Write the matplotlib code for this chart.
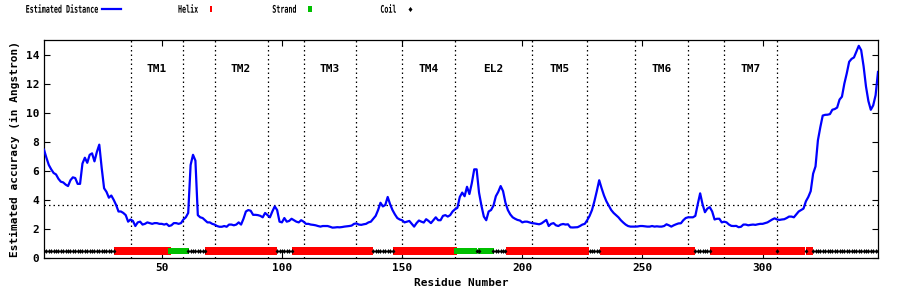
import numpy as np
import matplotlib
matplotlib.use('Agg')
import matplotlib.pyplot as plt
from matplotlib.lines import Line2D
from matplotlib.path import Path
from matplotlib.patches import PathPatch
from matplotlib.textpath import TextPath
from matplotlib.font_manager import FontProperties
from matplotlib.transforms import Affine2D, IdentityTransform

# estimated distance per residue (1..348)
distance = [
    7.45, 6.9, 6.4, 6.1, 5.85, 5.75, 5.45, 5.25, 5.2, 5.05,
    4.95, 5.35, 5.55, 5.5, 5.1, 5.1, 6.5, 6.9, 6.55, 7.1,
    7.2, 6.65, 7.3, 7.8, 6.2, 4.8, 4.55, 4.15, 4.3, 4.0,
    3.65, 3.2, 3.2, 3.1, 2.95, 2.5, 2.65, 2.55, 2.2, 2.45,
    2.5, 2.3, 2.35, 2.45, 2.4, 2.35, 2.4, 2.4, 2.35, 2.35,
    2.3, 2.35, 2.2, 2.25, 2.4, 2.4, 2.35, 2.4, 2.65, 2.8,
    3.1, 6.4, 7.1, 6.7, 2.95, 2.8, 2.75, 2.6, 2.45, 2.45,
    2.35, 2.3, 2.2, 2.15, 2.15, 2.2, 2.15, 2.3, 2.3, 2.25,
    2.3, 2.45, 2.3, 2.7, 3.2, 3.3, 3.25, 2.97, 2.97, 2.95,
    2.9, 2.8, 3.1, 2.95, 2.8, 3.2, 3.55, 3.3, 2.5, 2.45,
    2.75, 2.5, 2.55, 2.7, 2.6, 2.5, 2.45, 2.6, 2.5, 2.35,
    2.35, 2.3, 2.28, 2.25, 2.2, 2.16, 2.2, 2.2, 2.2, 2.15,
    2.09, 2.1, 2.12, 2.11, 2.13, 2.16, 2.18, 2.2, 2.23, 2.35,
    2.38, 2.3, 2.28, 2.32, 2.35, 2.45, 2.5, 2.7, 2.9, 3.3,
    3.8, 3.55, 3.65, 4.2, 3.7, 3.3, 3.0, 2.75, 2.65, 2.6,
    2.45, 2.5, 2.55, 2.35, 2.16, 2.4, 2.58, 2.5, 2.44, 2.67,
    2.55, 2.4, 2.6, 2.8, 2.6, 2.6, 2.9, 2.95, 2.85, 2.95,
    3.2, 3.35, 3.45, 4.2, 4.5, 4.25, 4.9, 4.4, 5.15, 6.1,
    6.1, 4.5, 3.6, 2.85, 2.6, 3.2, 3.3, 3.6, 4.25, 4.55,
    4.95, 4.6, 3.8, 3.3, 3.0, 2.8, 2.7, 2.62, 2.58, 2.45,
    2.5, 2.5, 2.45, 2.4, 2.38, 2.35, 2.32, 2.38, 2.5, 2.62,
    2.2, 2.35, 2.4, 2.25, 2.2, 2.3, 2.34, 2.3, 2.32, 2.11,
    2.1, 2.11, 2.12, 2.2, 2.3, 2.35, 2.6, 2.9, 3.3, 3.9,
    4.6, 5.35, 4.8, 4.3, 3.9, 3.6, 3.3, 3.1, 2.95, 2.8,
    2.6, 2.44, 2.3, 2.2, 2.16, 2.16, 2.16, 2.17, 2.2, 2.2,
    2.18, 2.16, 2.16, 2.2, 2.16, 2.18, 2.16, 2.16, 2.2, 2.32,
    2.25, 2.16, 2.25, 2.32, 2.38, 2.39, 2.6, 2.75, 2.8, 2.8,
    2.8, 2.9, 3.7, 4.45, 3.7, 3.15, 3.4, 3.5, 3.2, 2.65,
    2.7, 2.7, 2.45, 2.5, 2.45, 2.3, 2.21, 2.2, 2.21, 2.12,
    2.15, 2.3, 2.3, 2.25, 2.28, 2.3, 2.28, 2.32, 2.35, 2.35,
    2.4, 2.45, 2.55, 2.65, 2.73, 2.65, 2.62, 2.65, 2.67, 2.75,
    2.85, 2.85, 2.8, 3.0, 3.2, 3.3, 3.4, 3.9, 4.2, 4.6,
    5.8, 6.3, 8.1, 9.0, 9.8, 9.85, 9.86, 9.9, 10.2, 10.25,
    10.35, 10.9, 11.1, 12.0, 12.7, 13.5, 13.7, 13.8, 14.2, 14.6,
    14.3, 13.2, 11.8, 10.8, 10.2, 10.5, 11.2, 12.8,
]

# secondary structure segments (first residue, last residue, type)
ss_start = [1, 31, 54, 61, 69, 98, 105, 138, 147, 173, 181, 183, 188, 194, 228, 233, 272, 279, 306, 307, 318, 319, 321]
ss_end = [30, 53, 60, 68, 97, 104, 137, 146, 172, 180, 182, 187, 193, 227, 232, 271, 278, 305, 306, 317, 318, 320, 348]
ss_type = ['C', 'H', 'E', 'C', 'H', 'C', 'H', 'C', 'H', 'E', 'C', 'E', 'C', 'H', 'C', 'H', 'C', 'H', 'C', 'H', 'C', 'H', 'C']

# region boundaries and names
region_names = ['TM1', 'TM2', 'TM3', 'TM4', 'EL2', 'TM5', 'TM6', 'TM7']
region_start = [37, 72, 109, 150, 172, 204, 247, 284]
region_end = [59, 94, 131, 172, 204, 227, 269, 306]

threshold = 3.65

key_labels = ['Estimated Distance', 'Helix', 'Strand', 'Coil']

plt.rcParams['font.family'] = ['DejaVu Sans Mono', 'DejaVu Sans']
plt.rcParams['font.weight'] = 'bold'
plt.rcParams['font.size'] = 8

# tall narrow box, like gnuplot's point
bar = Path([(-0.45, -1), (0.45, -1), (0.45, 1), (-0.45, 1), (-0.45, -1)],
           [Path.MOVETO, Path.LINETO, Path.LINETO, Path.LINETO, Path.CLOSEPOLY])
diam = Path([(0, -1), (0.8, 0), (0, 1), (-0.8, 0), (0, -1)],
            [Path.MOVETO, Path.LINETO, Path.LINETO, Path.LINETO, Path.CLOSEPOLY])

res = np.arange(1, len(distance) + 1)
ss = np.empty(len(res), dtype=object)
for s, e, t in zip(ss_start, ss_end, ss_type):
    ss[s - 1:e] = t

fig = plt.figure(figsize=(9, 3), dpi=100)
ax = fig.add_axes([44 / 900, 42 / 300, 834 / 900, 218 / 300])

dots = (0, (1.2, 2.4))
for xb in sorted(set(region_start + region_end)):
    ax.axvline(xb, color='black', lw=0.9, ls=dots, zorder=1)
ax.axhline(threshold, color='black', lw=0.9, ls=dots, zorder=1)

for name, s, e in zip(region_names, region_start, region_end):
    ax.text((s + e) / 2, 13, name, ha='center', va='center', fontsize=8, fontweight='bold')

ax.plot(res, distance, color='#0000ff', lw=1.6, zorder=3)

h = ss == 'H'
e = ss == 'E'
c = ss == 'C'
ax.plot(res[h], np.full(h.sum(), 0.5), ls='none', marker=bar, ms=5.2, color='#ff0000', mew=0, zorder=4)
ax.plot(res[e], np.full(e.sum(), 0.5), ls='none', marker='s', ms=5.0, color='#00c000', mew=0, zorder=4)
ax.plot(res[c], np.full(c.sum(), 0.5), ls='none', marker=diam, ms=3.4, color='black', mew=0, zorder=4)

ax.set_xlim(1, 348)
ax.set_ylim(0, 15)
ax.set_xticks([50, 100, 150, 200, 250, 300])
ax.set_yticks(np.arange(0, 15, 2))
ax.tick_params(direction='in', length=4, width=0.8, top=True, right=True, labelsize=8)
for sp in ax.spines.values():
    sp.set_linewidth(0.9)
ax.set_xlabel('Residue Number', fontsize=8, fontweight='bold', labelpad=4)
ax.set_ylabel('Estimated accuracy (in Angstron)', fontsize=8, fontweight='bold', labelpad=4)

# key along the top, in a narrow font (squeezed text paths, pixel coords)
fp = FontProperties(family='DejaVu Sans Mono', weight='bold')


def key_text(s, right_px, base_px):
    tp = TextPath((0, 0), s, size=10, prop=fp)
    x1 = tp.get_extents().x1
    tr = Affine2D().translate(-x1, 0).scale(0.67, 1.05).translate(right_px, 300 - base_px)
    fig.add_artist(PathPatch(tr.transform_path(tp), transform=IdentityTransform(),
                             facecolor='black', edgecolor='none'))


ky = 1 - 9 / 300
key_right = [98, 198, 296, 396]
for lab, xr in zip(key_labels, key_right):
    key_text(lab, xr, 12.7)
fig.add_artist(Line2D([102 / 900, 121 / 900], [ky, ky], color='#0000ff', lw=1.6))
fig.add_artist(Line2D([211 / 900], [ky], marker=bar, ms=4.5, color='#ff0000', mew=0))
fig.add_artist(Line2D([310 / 900], [ky], marker=bar, ms=5.0, color='#00c000', mew=0))
fig.add_artist(Line2D([410 / 900], [ky], marker=diam, ms=3.6, color='black', mew=0))

fig.savefig('out.png', dpi=100)
